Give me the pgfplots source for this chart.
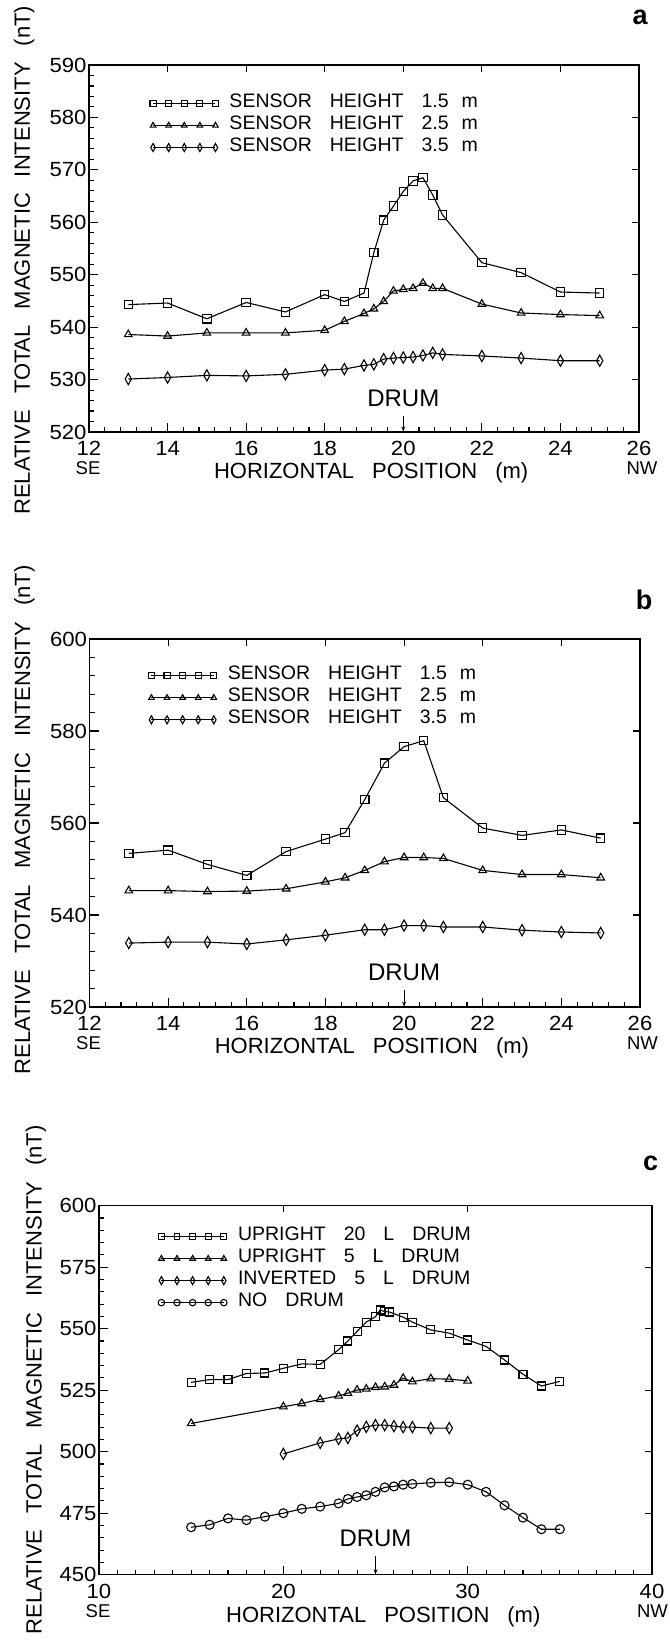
\documentclass[border=0pt]{standalone}
\usepackage{fontspec}
\setmainfont{Liberation Sans}
\newfontfamily\tickfont{Liberation Sans}[FakeStretch=1.08]
\usepackage{pgfplots}
\pgfplotsset{compat=1.18}
\usetikzlibrary{arrows.meta}

\newcommand{\gap}{\hspace{18pt}}
\newcommand{\lgap}{\hspace{16pt}}
\newcommand{\xgap}{\hspace{18pt}}

\pgfplotstableread{
x y
13 544.3
14 544.6
15 541.6
16 544.7
17 542.9
18 546.2
18.5 544.9
19 546.5
19.25 554.2
19.5 560.4
19.75 563.1
20 565.9
20.25 567.9
20.5 568.5
20.75 565.2
21 561.4
22 552.3
23 550.4
24 546.7
25 546.5
}\aone
\pgfplotstableread{
x y
13 538.6
14 538.3
15 538.9
16 538.9
17 538.9
18 539.4
18.5 541.1
19 542.6
19.25 543.5
19.5 544.9
19.75 546.9
20 547.2
20.25 547.4
20.5 548.4
20.75 547.4
21 547.4
22 544.4
23 542.7
24 542.4
25 542.2
}\atwo
\pgfplotstableread{
x y
13 530.1
14 530.4
15 530.8
16 530.7
17 531.0
18 531.8
18.5 532.0
19 532.7
19.25 532.9
19.5 533.9
19.75 534.1
20 534.2
20.25 534.3
20.5 534.6
20.75 535.1
21 534.8
22 534.5
23 534.1
24 533.6
25 533.6
}\athree
\pgfplotstableread{
x y
13 553.4
14 554.1
15 551.0
16 548.6
17 553.8
18 556.5
18.5 557.9
19 565.1
19.5 573.0
20 576.6
20.5 577.9
21 565.5
22 558.9
23 557.3
24 558.5
25 556.7
}\bone
\pgfplotstableread{
x y
13 545.3
14 545.3
15 545.1
16 545.2
17 545.7
18 547.2
18.5 548.1
19 549.7
19.5 551.6
20 552.5
20.5 552.5
21 552.3
22 549.7
23 548.8
24 548.8
25 548.1
}\btwo
\pgfplotstableread{
x y
13 533.9
14 534.1
15 534.1
16 533.7
17 534.6
18 535.6
19 536.8
19.5 536.8
20 537.7
20.5 537.7
21 537.4
22 537.4
23 536.7
24 536.3
25 536.1
}\bthree
\pgfplotstableread{
x y
15 528.2
16 529.3
17 529.3
18 531.8
19 532.0
20 533.9
21 535.7
22 535.5
23 541.5
23.5 545.0
24 548.9
24.5 552.7
25 554.9
25.25 557.6
25.5 557.0
25.75 556.8
26.5 554.7
27 552.7
28 549.5
29 548.2
30 545.4
31 542.8
32 537.3
33 531.5
34 526.7
35 528.6
}\cone
\pgfplotstableread{
x y
15 511.5
20 518.3
21 519.6
22 521.3
23 522.7
23.5 523.8
24 525.1
24.5 525.5
25 526.2
25.5 526.4
26 527.1
26.5 529.9
27 528.5
28 529.7
29 529.5
30 528.8
}\ctwo
\pgfplotstableread{
x y
20 499.1
22 503.6
23 505.2
23.5 505.6
24 508.6
24.5 510.1
25 510.8
25.5 510.8
26 510.4
26.5 510.0
27 510.0
28 509.6
29 509.6
}\cthree
\pgfplotstableread{
x y
15 469.3
16 470.3
17 472.9
18 472.2
19 473.6
20 475.0
21 476.8
22 477.7
23 479.0
23.5 480.8
24 481.6
24.5 482.3
25 483.7
25.5 485.5
26 485.9
26.5 486.6
27 486.9
28 487.4
29 487.6
30 486.6
31 483.7
32 478.2
33 473.2
34 468.5
35 468.5
}\cfour

\pgfplotsset{
  magstyle/.style={
    scale only axis,
    anchor=south west,
    axis line style={line width=1.3pt},
    tick pos=left,
    tick align=inside,
    major tick length=9pt,
    minor tick length=5pt,
    every tick/.style={black,line width=1.1pt},
    tick label style={font=\tickfont\fontsize{20.5}{20.5}\selectfont},
    /pgf/number format/assume math mode=true,
    /pgf/number format/1000 sep={},
    xticklabel style={yshift=-6pt},
    yticklabel style={xshift=1pt},
    label style={font=\fontsize{22}{22}\selectfont},
    xlabel={HORIZONTAL\xgap POSITION\xgap (m)},
    ylabel={RELATIVE\lgap TOTAL\lgap MAGNETIC\lgap INTENSITY\lgap (nT)},
    legend cell align=left,
    legend image code/.code={\draw[mark repeat=1,mark phase=1,every mark/.append style={scale=0.72}] plot coordinates {(0pt,0pt) (15.6pt,0pt) (31.2pt,0pt) (46.8pt,0pt) (62.4pt,0pt)};},
    every axis plot/.append style={black, line width=1.1pt, mark options={solid, line width=1.1pt}},
  },
  sq/.style={mark=square, mark size=4.2pt},
  tri/.style={mark=triangle, mark size=4.4pt},
  dia/.style={mark=diamond, mark size=5.6pt, mark options={xscale=0.75}},
  circ/.style={mark=o, mark size=4.5pt},
  lgd/.style={legend style={at={(axis description cs:#1)}, anchor=north west, draw=none, fill=none, inner sep=0pt, outer sep=0pt, row sep=0pt, column sep=11pt, font=\fontsize{19.5}{19.5}\selectfont, nodes={inner sep=0pt, text height=14.8pt, text depth=7.2pt}}},
  overlay/.style={
    scale only axis, anchor=south west,
    axis line style={line width=1.3pt},
    xtick pos=right, ytick pos=right, tick align=inside,
    major tick length=6.7pt, minor tick num=0,
    every tick/.style={black,line width=1.1pt},
    xticklabels={}, yticklabels={},
  },
}

\begin{document}
\begin{tikzpicture}
% ---------------- panel a ----------------
\begin{axis}[magstyle, at={(89pt,-432pt)}, width=550pt, height=367pt,
  xmin=12, xmax=26, ymin=520, ymax=590,
  xtick={12,14,...,26}, ytick={520,530,...,590},
  minor x tick num=4, minor y tick num=4,
  xlabel style={at={(axis description cs:0.513,-0.11)}, anchor=center},
  ylabel style={at={(axis description cs:-0.118,0.468)}, anchor=center},
  lgd={0.111,0.925}]
\addplot[sq] table {\aone};
\addlegendentry{SENSOR\gap HEIGHT\gap 1.5\hspace{13pt}m}
\addplot[tri] table {\atwo};
\addlegendentry{SENSOR\gap HEIGHT\gap 2.5\hspace{13pt}m}
\addplot[dia] table {\athree};
\addlegendentry{SENSOR\gap HEIGHT\gap 3.5\hspace{13pt}m}
\node[font=\fontsize{24}{24}\selectfont, inner sep=0pt] at (axis cs:20,526.5) {DRUM};
\draw[line width=1pt, -{Stealth[length=5pt,width=4pt]}] (axis cs:20,523.1) -- (axis cs:20,520.1);
\end{axis}
\begin{axis}[overlay, at={(89pt,-432pt)}, width=550pt, height=367pt,
  xmin=12, xmax=26, ymin=520, ymax=590,
  xtick={12,14,...,26}, ytick={520,530,...,590}]
\end{axis}
\node[font=\fontsize{18.5}{18.5}\selectfont] at (88pt,-468.3pt) {SE};
\node[font=\fontsize{18.5}{18.5}\selectfont] at (642pt,-468.3pt) {NW};
\node[font=\bfseries\fontsize{27}{27}\selectfont] at (640pt,-17.3pt) {a};

% ---------------- panel b ----------------
\begin{axis}[magstyle, at={(89.5pt,-1007pt)}, width=550.5pt, height=368pt,
  xmin=12, xmax=26, ymin=520, ymax=600,
  xtick={12,14,...,26}, ytick={520,540,...,600},
  minor x tick num=4, minor y tick num=4,
  xlabel style={at={(axis description cs:0.513,-0.11)}, anchor=center},
  ylabel style={at={(axis description cs:-0.118,0.508)}, anchor=center},
  lgd={0.107,0.93}]
\addplot[sq] table {\bone};
\addlegendentry{SENSOR\gap HEIGHT\gap 1.5\hspace{13pt}m}
\addplot[tri] table {\btwo};
\addlegendentry{SENSOR\gap HEIGHT\gap 2.5\hspace{13pt}m}
\addplot[dia] table {\bthree};
\addlegendentry{SENSOR\gap HEIGHT\gap 3.5\hspace{13pt}m}
\node[font=\fontsize{24}{24}\selectfont, inner sep=0pt] at (axis cs:20,527.5) {DRUM};
\draw[line width=1pt, -{Stealth[length=5pt,width=4pt]}] (axis cs:20,523.7) -- (axis cs:20,520.1);
\end{axis}
\begin{axis}[overlay, at={(89.5pt,-1007pt)}, width=550.5pt, height=368pt,
  xmin=12, xmax=26, ymin=520, ymax=600,
  xtick={12,14,...,26}, ytick={520,540,...,600}]
\end{axis}
\node[font=\fontsize{18.5}{18.5}\selectfont] at (88.5pt,-1043.6pt) {SE};
\node[font=\fontsize{18.5}{18.5}\selectfont] at (642.5pt,-1043.6pt) {NW};
\node[font=\bfseries\fontsize{27}{27}\selectfont] at (644pt,-599.5pt) {b};

% ---------------- panel c ----------------
\begin{axis}[magstyle, at={(99pt,-1574.7pt)}, width=553pt, height=369pt,
  xmin=10, xmax=40, ymin=450, ymax=600,
  xtick={10,20,30,40}, ytick={450,475,...,600},
  minor x tick num=9, minor y tick num=4,
  xlabel style={at={(axis description cs:0.514,-0.113)}, anchor=center},
  ylabel style={at={(axis description cs:-0.114,0.528)}, anchor=center},
  lgd={0.107,0.946}]
\addplot[sq, mark size=4pt] table {\cone};
\addlegendentry{UPRIGHT\gap 20\gap L\gap DRUM}
\addplot[tri] table {\ctwo};
\addlegendentry{UPRIGHT\gap 5\gap L\gap DRUM}
\addplot[dia] table {\cthree};
\addlegendentry{INVERTED\gap 5\gap L\gap DRUM}
\addplot[circ] table {\cfour};
\addlegendentry{NO\gap DRUM}
\node[font=\fontsize{24}{24}\selectfont, inner sep=0pt] at (axis cs:25,464.75) {DRUM};
\draw[line width=1pt, -{Stealth[length=5pt,width=4pt]}] (axis cs:25,457.8) -- (axis cs:25,450.2);
\end{axis}
\begin{axis}[overlay, at={(99pt,-1574.7pt)}, width=553pt, height=369pt,
  xmin=10, xmax=40, ymin=450, ymax=600,
  xtick={10,20,30,40}, ytick={450,475,...,600}]
\end{axis}
\node[font=\fontsize{18.5}{18.5}\selectfont] at (98pt,-1611.3pt) {SE};
\node[font=\fontsize{18.5}{18.5}\selectfont] at (652.5pt,-1611.3pt) {NW};
\node[font=\bfseries\fontsize{27}{27}\selectfont] at (650.6pt,-1163pt) {c};

\pgfresetboundingbox
\path[use as bounding box] (0pt,0pt) rectangle (669pt,-1640pt);
\end{tikzpicture}
\end{document}
